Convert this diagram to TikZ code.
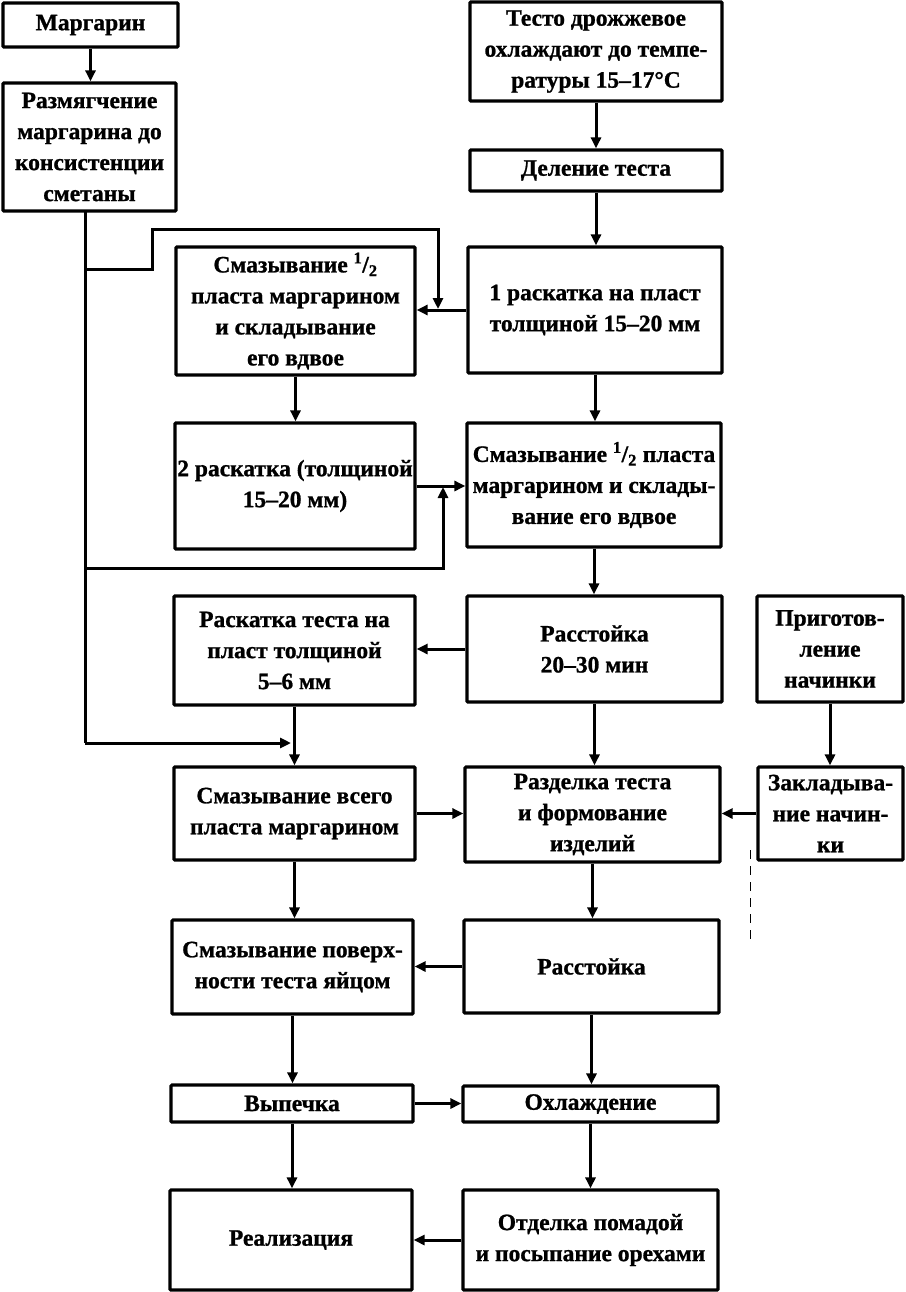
\documentclass[tikz,border=0pt]{standalone}
\usepackage{fontspec}
\setmainfont{Liberation Serif}[BoldFeatures={FakeBold=1}]
\usetikzlibrary{arrows.meta,calc}
\newcommand{\half}{\textsuperscript{1}/\textsubscript{2}}
\begin{document}
\begin{tikzpicture}[x=1pt,y=-1pt,
  box/.style={draw, line width=3.2pt, rounded corners=1pt, align=center, inner sep=0pt,
    font=\fontsize{23.5}{31}\selectfont\bfseries},
  arr/.style={line width=3pt, -{Triangle[length=11pt,width=10pt]}},
  ln/.style={line width=3pt}]
\useasboundingbox (0,0) rectangle (905,1292);
\fill[white] (0,0) rectangle (905,1292);
% boxes
\node[box, minimum width=175, minimum height=44] (marg) at (90.5,25) {Маргарин};
\node[box, minimum width=173, minimum height=128] (razm) at (89.5,147) {Размягчение\\маргарина до\\консистенции\\сметаны};
\node[box, minimum width=252, minimum height=99] (testo) at (596,51.5) {Тесто дрожжевое\\охлаждают до темпе-\\ратуры 15–17°С};
\node[box, minimum width=252, minimum height=41] (delen) at (596,170.5) {Деление теста};
\node[box, minimum width=239, minimum height=128] (smaz1) at (295.5,311) {Смазывание \half\\пласта маргарином\\и складывание\\его вдвое};
\node[box, minimum width=254, minimum height=126] (rask1) at (595,310) {1 раскатка на пласт\\толщиной 15–20 мм};
\node[box, minimum width=240, minimum height=126] (rask2) at (295,486) {2 раскатка (толщиной\\15–20 мм)};
\node[box, minimum width=254, minimum height=124] (smaz2) at (594,485) {Смазывание \half{} пласта\\маргарином и склады-\\вание его вдвое};
\node[box, minimum width=241, minimum height=109] (rask3) at (294.5,650.5) {Раскатка теста на\\пласт толщиной\\5–6 мм};
\node[box, minimum width=255, minimum height=106] (rasst1) at (594.5,649) {Расстойка\\20–30 мин};
\node[box, minimum width=146, minimum height=106] (prig) at (830,649) {Приготов-\\ление\\начинки};
\node[box, minimum width=241, minimum height=93] (smazv) at (294.5,813.5) {Смазывание всего\\пласта маргарином};
\node[box, minimum width=255, minimum height=95] (razd) at (592.5,814.5) {Разделка теста\\и формование\\изделий};
\node[box, minimum width=145, minimum height=93] (zakl) at (830.5,813.5) {Закладыва-\\ние начин-\\ки};
\node[box, minimum width=241, minimum height=94] (smazp) at (292.5,967) {Смазывание поверх-\\ности теста яйцом};
\node[box, minimum width=255, minimum height=93] (rasst2) at (591.5,966.5) {Расстойка};
\node[box, minimum width=242, minimum height=37] (vyp) at (292,1103.5) {Выпечка};
\node[box, minimum width=255, minimum height=36] (ohl) at (590.5,1104) {Охлаждение};
\node[box, minimum width=242, minimum height=100] (real) at (291,1240) {Реализация};
\node[box, minimum width=255, minimum height=100] (otd) at (590.5,1240) {Отделка помадой\\и посыпание орехами};
% junction coordinates
\coordinate (tr0) at (85,211);
\coordinate (b1) at (85,269);
\coordinate (b2) at (85,568);
\coordinate (tend) at (85,743);
\coordinate (jA) at (438,309);
\coordinate (jB) at (443,487);
\coordinate (jC) at (291,743);
% connectors
\draw[arr] (marg.south) -- (marg.south |- razm.north);
\draw[arr] (testo.south) -- (testo.south |- delen.north);
\draw[arr] (delen.south) -- (delen.south |- rask1.north);
\draw[arr] (rask1.west) -- (rask1.west -| smaz1.east);
\draw[arr] (smaz1.south) -- (smaz1.south |- rask2.north);
\draw[arr] (rask2.east) -- (rask2.east -| smaz2.west);
\draw[arr] (rask1.south) -- (rask1.south |- smaz2.north);
\draw[arr] (smaz2.south) -- (smaz2.south |- rasst1.north);
\draw[arr] (rasst1.west) -- (rasst1.west -| rask3.east);
\draw[arr] (rask3.south) -- (rask3.south |- smazv.north);
\draw[arr] (rasst1.south) -- (rasst1.south |- razd.north);
\draw[arr] (prig.south) -- (prig.south |- zakl.north);
\draw[arr] (zakl.west) -- (zakl.west -| razd.east);
\draw[arr] (smazv.east) -- (smazv.east -| razd.west);
\draw[arr] (razd.south) -- (razd.south |- rasst2.north);
\draw[arr] (rasst2.west) -- (rasst2.west -| smazp.east);
\draw[arr] (smazv.south) -- (smazv.south |- smazp.north);
\draw[arr] (smazp.south) -- (smazp.south |- vyp.north);
\draw[arr] (rasst2.south) -- (rasst2.south |- ohl.north);
\draw[arr, line width=3.8pt] (vyp.east) -- (vyp.east -| ohl.west);
\draw[arr] (vyp.south) -- (vyp.south |- real.north);
\draw[arr] (ohl.south) -- (ohl.south |- otd.north);
\draw[arr] (otd.west) -- (otd.west -| real.east);
% margarine distribution lines
\draw[ln] (tr0) -- (tend);
\draw[arr] (tend) -- (jC);
\draw[arr] (b1) -- (152,269) -- (152,229) -- (438,229) -- (jA);
\draw[arr] (b2) -- (443,568) -- (jB);
% faint dashed mark
\draw[line width=0.9pt, dash pattern=on 9pt off 7pt] (750,850) -- (750,942);
\end{tikzpicture}
\end{document}
